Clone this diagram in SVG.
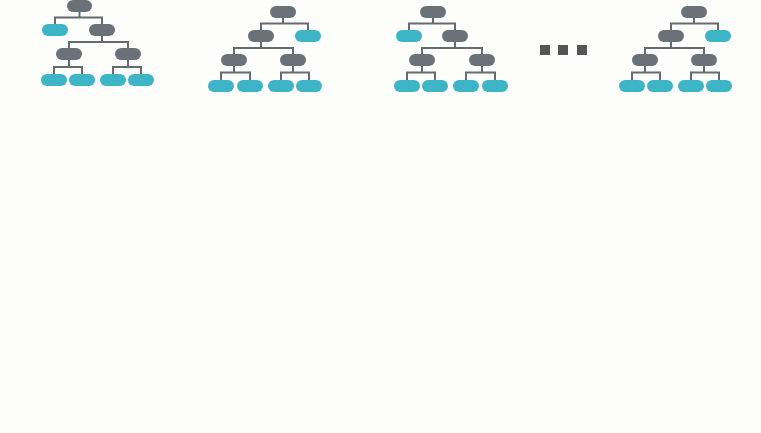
<svg xmlns="http://www.w3.org/2000/svg" width="761" height="433" viewBox="0 0 761 433">
<style>
.g{fill:#6a7179}
.t{fill:#3db5c7}
.c{fill:none;stroke:#676b70;stroke-width:2}
.d{fill:#545556}
</style>
<rect width="761" height="433" fill="#fdfdfc"/>
<g id="connectors">
<path class="c" d="M79.5 12V17.5M55 24V17.5H102V24M102 36V42M69 48V42H128V48M69 60V67M54 74V67H82V74M128 60V67M113 74V67H141V74"/>
<path class="c" d="M283 18V23.5M261 30V23.5H308V30M261 42V48M234 54V48H293V54M234 66V72.5M221 80V72.5H250V80M293 66V72.5M281 80V72.5H309V80"/>
<path class="c" d="M433 18V23.5M409 30V23.5H455V30M455 42V48M422 54V48H482V54M422 66V72.5M407 80V72.5H435V80M482 66V72.5M466 80V72.5H495V80"/>
<path class="c" d="M694 18V23.5M671 30V23.5H718V30M671 42V48M645 54V48H704V54M645 66V72.5M632 80V72.5H660V80M704 66V72.5M691 80V72.5H719V80"/>
</g>
<g id="tree1">
<rect class="g" x="67" y="0" width="25" height="12" rx="6"/>
<rect class="t" x="42" y="24" width="26" height="12" rx="6"/>
<rect class="g" x="89" y="24" width="26" height="12" rx="6"/>
<rect class="g" x="56" y="48" width="26" height="12" rx="6"/>
<rect class="g" x="115" y="48" width="26" height="12" rx="6"/>
<rect class="t" x="41" y="74" width="26" height="12" rx="6"/>
<rect class="t" x="69" y="74" width="26" height="12" rx="6"/>
<rect class="t" x="100" y="74" width="26" height="12" rx="6"/>
<rect class="t" x="128" y="74" width="26" height="12" rx="6"/>
</g>
<g id="tree2">
<rect class="g" x="270" y="6" width="26" height="12" rx="6"/>
<rect class="g" x="248" y="30" width="26" height="12" rx="6"/>
<rect class="t" x="295" y="30" width="26" height="12" rx="6"/>
<rect class="g" x="221" y="54" width="26" height="12" rx="6"/>
<rect class="g" x="280" y="54" width="26" height="12" rx="6"/>
<rect class="t" x="208" y="80" width="26" height="12" rx="6"/>
<rect class="t" x="237" y="80" width="26" height="12" rx="6"/>
<rect class="t" x="268" y="80" width="26" height="12" rx="6"/>
<rect class="t" x="296" y="80" width="26" height="12" rx="6"/>
</g>
<g id="tree3">
<rect class="g" x="420" y="6" width="26" height="12" rx="6"/>
<rect class="t" x="396" y="30" width="26" height="12" rx="6"/>
<rect class="g" x="442" y="30" width="26" height="12" rx="6"/>
<rect class="g" x="409" y="54" width="26" height="12" rx="6"/>
<rect class="g" x="469" y="54" width="26" height="12" rx="6"/>
<rect class="t" x="394" y="80" width="26" height="12" rx="6"/>
<rect class="t" x="422" y="80" width="26" height="12" rx="6"/>
<rect class="t" x="453" y="80" width="26" height="12" rx="6"/>
<rect class="t" x="482" y="80" width="26" height="12" rx="6"/>
</g>
<g id="ellipsis">
<rect class="d" x="540" y="45" width="10" height="10"/>
<rect class="d" x="558" y="45" width="10" height="10"/>
<rect class="d" x="577" y="45" width="10" height="10"/>
</g>
<g id="tree4">
<rect class="g" x="681" y="6" width="26" height="12" rx="6"/>
<rect class="g" x="658" y="30" width="26" height="12" rx="6"/>
<rect class="t" x="705" y="30" width="26" height="12" rx="6"/>
<rect class="g" x="632" y="54" width="26" height="12" rx="6"/>
<rect class="g" x="691" y="54" width="26" height="12" rx="6"/>
<rect class="t" x="619" y="80" width="26" height="12" rx="6"/>
<rect class="t" x="647" y="80" width="26" height="12" rx="6"/>
<rect class="t" x="678" y="80" width="26" height="12" rx="6"/>
<rect class="t" x="706" y="80" width="26" height="12" rx="6"/>
</g>
</svg>
